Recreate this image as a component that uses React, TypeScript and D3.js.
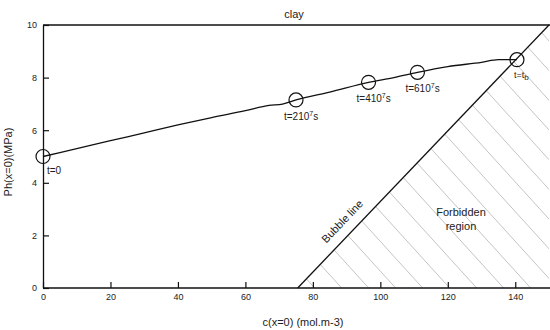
import React, { useEffect, useRef } from 'react';
import * as d3 from 'd3';

// Ph(x=0) trajectory
const concentration = [0, 10, 20, 30, 40, 50, 60, 67, 71, 75, 85, 96.5, 104, 111, 120, 130, 135, 140.5];
const pressure = [5.0, 5.3, 5.6, 5.9, 6.2, 6.48, 6.74, 6.94, 6.99, 7.15, 7.45, 7.82, 8.0, 8.2, 8.42, 8.58, 8.68, 8.68];

// marked instants
const markC = [0, 75, 96.5, 111, 140.5];
const markP = [5.0, 7.15, 7.82, 8.2, 8.68];
const markLabels = ['0', '2', '4', '6', 'b'];

// bubble line end points
const bubbleC = [75.5, 150];
const bubbleP = [0, 10];

const xTicks = [0, 20, 40, 60, 80, 100, 120, 140];
const yTicks = [0, 2, 4, 6, 8, 10];

function App() {
  const svgRef = useRef<SVGSVGElement>(null);

  useEffect(() => {
    const svg = d3.select(svgRef.current);
    svg.selectAll('*').remove();

    const x = d3.scaleLinear().domain([0, 150]).range([43, 549]);
    const y = d3.scaleLinear().domain([0, 10]).range([288, 25]);
    const font = '"Liberation Sans", Arial, sans-serif';

    svg.attr('font-family', font);

    // hatched forbidden region
    const clipId = 'forbidden-clip';
    svg.append('clipPath').attr('id', clipId)
      .append('polygon')
      .attr('points', [[x(bubbleC[0]), y(bubbleP[0])], [x(bubbleC[1]), y(bubbleP[1])], [x(150), y(0)]].map(p => p.join(',')).join(' '));

    const hatch = svg.append('g').attr('clip-path', `url(#${clipId})`);
    const slope = 1.1;
    const h = y(0) - y(10);
    for (let px = x(bubbleC[0]) - 10; px < x(150) + h / slope + 30; px += 27) {
      hatch.append('line')
        .attr('x1', px - h / slope).attr('y1', y(0) - h)
        .attr('x2', px).attr('y2', y(0))
        .attr('stroke', '#aaa').attr('stroke-width', 0.7);
    }

    // frame: top line
    svg.append('line')
      .attr('x1', x(0)).attr('x2', 550).attr('y1', y(10)).attr('y2', y(10))
      .attr('stroke', '#111').attr('stroke-width', 1.3);

    const xAxis = svg.append('g')
      .attr('transform', `translate(0,${y(0)})`)
      .call(d3.axisBottom(x).tickValues(xTicks).tickSizeInner(-6).tickSizeOuter(0).tickPadding(6));
    xAxis.select('.domain').attr('d', `M${x(0)},0H550`).attr('stroke', '#111').attr('stroke-width', 1.3);

    const yAxis = svg.append('g')
      .attr('transform', `translate(${x(0)},0)`)
      .call(d3.axisLeft(y).tickValues(yTicks).tickSizeInner(-6).tickSizeOuter(0).tickPadding(6));
    yAxis.select('.domain').attr('stroke', '#111').attr('stroke-width', 1.3);

    svg.selectAll('.tick line').attr('stroke', '#111').attr('stroke-width', 1.2);
    svg.selectAll('.tick text').attr('font-family', font).attr('font-size', 9).attr('fill', '#222');

    // bubble line
    svg.append('line')
      .attr('x1', x(bubbleC[0])).attr('y1', y(bubbleP[0]))
      .attr('x2', x(bubbleC[1])).attr('y2', y(bubbleP[1]))
      .attr('stroke', '#111').attr('stroke-width', 1.3);

    // trajectory
    const pts = concentration.map((c, i) => [c, pressure[i]] as [number, number]);
    svg.append('path')
      .datum(pts)
      .attr('fill', 'none')
      .attr('stroke', '#111')
      .attr('stroke-width', 1.3)
      .attr('d', d3.line<[number, number]>().x(d => x(d[0])).y(d => y(d[1])).curve(d3.curveMonotoneX));

    markC.forEach((c, i) => {
      svg.append('circle')
        .attr('cx', x(c)).attr('cy', y(markP[i])).attr('r', 7)
        .attr('fill', 'none').attr('stroke', '#111').attr('stroke-width', 1.2);
    });

    // labels at marks
    const lab = (tx: number, ty: number, size = 10) =>
      svg.append('text').attr('x', tx).attr('y', ty).attr('font-size', size).attr('fill', '#222');

    lab(x(markC[0]) + 4, y(markP[0]) + 17).text('t=0');

    [1, 2, 3].forEach(i => {
      const t = lab(x(markC[i]) - 12, y(markP[i]) + 20);
      t.append('tspan').text(`t=${markLabels[i]}10`);
      t.append('tspan').attr('dy', -4).attr('font-size', 7).text('7');
      t.append('tspan').attr('dy', 4).text('s');
    });

    const tb = lab(x(markC[4]) - 3, y(markP[4]) + 18, 9);
    tb.append('tspan').text('t=t');
    tb.append('tspan').attr('dy', 2).attr('font-size', 8).text('b');

    // titles
    svg.append('text').attr('x', 294).attr('y', 18).attr('text-anchor', 'middle')
      .attr('font-size', 11).attr('fill', '#222').text('clay');

    svg.append('text').attr('x', 303).attr('y', 326).attr('text-anchor', 'middle')
      .attr('font-size', 11).attr('fill', '#222').text('c(x=0) (mol.m-3)');

    svg.append('text').attr('transform', 'translate(12,162) rotate(-90)').attr('text-anchor', 'middle')
      .attr('font-size', 11).attr('fill', '#222').text('Ph(x=0)(MPa)');

    const ang = Math.atan2(y(bubbleP[1]) - y(bubbleP[0]), x(bubbleC[1]) - x(bubbleC[0])) * 180 / Math.PI;
    svg.append('text').attr('transform', `translate(345,224) rotate(${ang})`).attr('text-anchor', 'middle')
      .attr('font-size', 11).attr('fill', '#222').text('Bubble line');

    svg.append('text').attr('x', 461).attr('y', 216).attr('text-anchor', 'middle')
      .attr('font-size', 11).attr('fill', '#222').text('Forbidden');
    svg.append('text').attr('x', 461).attr('y', 230).attr('text-anchor', 'middle')
      .attr('font-size', 11).attr('fill', '#222').text('region');
  }, []);

  return (
    <svg ref={svgRef} width="550" height="330"
      style={{ position: 'absolute', left: 0, top: 0, background: 'white' }}></svg>
  );
}

export default App;
